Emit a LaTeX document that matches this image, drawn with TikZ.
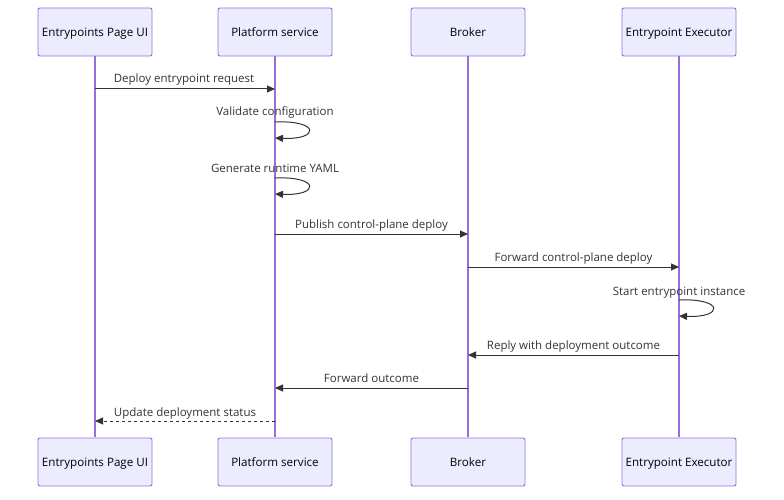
\documentclass[tikz,border=0pt]{standalone}
\usepackage{fontspec}
\setmainfont{Open Sans}
\usetikzlibrary{arrows.meta}
\definecolor{actfill}{HTML}{ECECFF}
\definecolor{actline}{HTML}{9370DB}
\definecolor{msg}{HTML}{333333}
\tikzset{
  actor/.style={draw=actline, fill=actfill, rounded corners=2pt, line width=0.9pt, minimum width=114pt, minimum height=48pt, font=\fontsize{11.6}{14}\selectfont, text=black, inner sep=0pt, text height=10.5pt, text depth=1.5pt},
  life/.style={draw=actline, line width=1.2pt},
  msgline/.style={draw=msg, line width=1pt, -{Triangle[length=8pt,width=7pt]}},
  msgtext/.style={font=\fontsize{11.5}{13}\selectfont, text=msg, inner sep=0pt, anchor=base},
}
\begin{document}
\begin{tikzpicture}[x=1pt,y=-1pt]
\useasboundingbox (0,0) rectangle (784,500);
% lifelines
\foreach \n/\x in {a/95,b/275,c/468,d/679}{
  \coordinate (\n top) at (\x,56);
  \coordinate (\n bot) at (\x,437);
  \draw[life] (\n top) -- (\n bot);
}
\node[actor] (A1) at (95,32) {Entrypoints Page UI};
\node[actor] (B1) at (275,32) {Platform service};
\node[actor] (C1) at (468,32) {Broker};
\node[actor] (D1) at (679,32) {Entrypoint Executor};
\node[actor] (A2) at (95,462) {Entrypoints Page UI};
\node[actor] (B2) at (275,462) {Platform service};
\node[actor] (C2) at (468,462) {Broker};
\node[actor] (D2) at (679,462) {Entrypoint Executor};

% messages
\coordinate (m1s) at (95,89); \coordinate (m1e) at (275,89);
\draw[msgline] (m1s) -- (m1e);
\node[msgtext] (t1) at (184,83) {Deploy entrypoint request};

\coordinate (s1a) at (275,122); \coordinate (s1b) at (275,138);
\draw[msgline] (s1a) .. controls (320,120) and (320,140) .. (s1b);
\node[msgtext] (t2) at (275,116) {Validate configuration};

\coordinate (s2a) at (275,178); \coordinate (s2b) at (275,194);
\draw[msgline] (s2a) .. controls (320,176) and (320,196) .. (s2b);
\node[msgtext] (t3) at (275,172) {Generate runtime YAML};

\coordinate (m4s) at (275,234); \coordinate (m4e) at (468,234);
\draw[msgline] (m4s) -- (m4e);
\node[msgtext] (t4) at (371.5,228) {Publish control-plane deploy};

\coordinate (m5s) at (468,267); \coordinate (m5e) at (679,267);
\draw[msgline] (m5s) -- (m5e);
\node[msgtext] (t5) at (573.5,261) {Forward control-plane deploy};

\coordinate (s3a) at (679,300); \coordinate (s3b) at (679,316);
\draw[msgline] (s3a) .. controls (724,298) and (724,318) .. (s3b);
\node[msgtext] (t6) at (679,295) {Start entrypoint instance};

\coordinate (m7s) at (679,355); \coordinate (m7e) at (468,355);
\draw[msgline] (m7s) -- (m7e);
\node[msgtext] (t7) at (573.5,349) {Reply with deployment outcome};

\coordinate (m8s) at (468,388); \coordinate (m8e) at (275,388);
\draw[msgline] (m8s) -- (m8e);
\node[msgtext] (t8) at (371.5,382) {Forward outcome};

\coordinate (m9s) at (275,421); \coordinate (m9e) at (95,421);
\draw[msgline, dash pattern=on 3pt off 3pt] (m9s) -- (m9e);
\node[msgtext] (t9) at (185,416) {Update deployment status};
\end{tikzpicture}
\end{document}
